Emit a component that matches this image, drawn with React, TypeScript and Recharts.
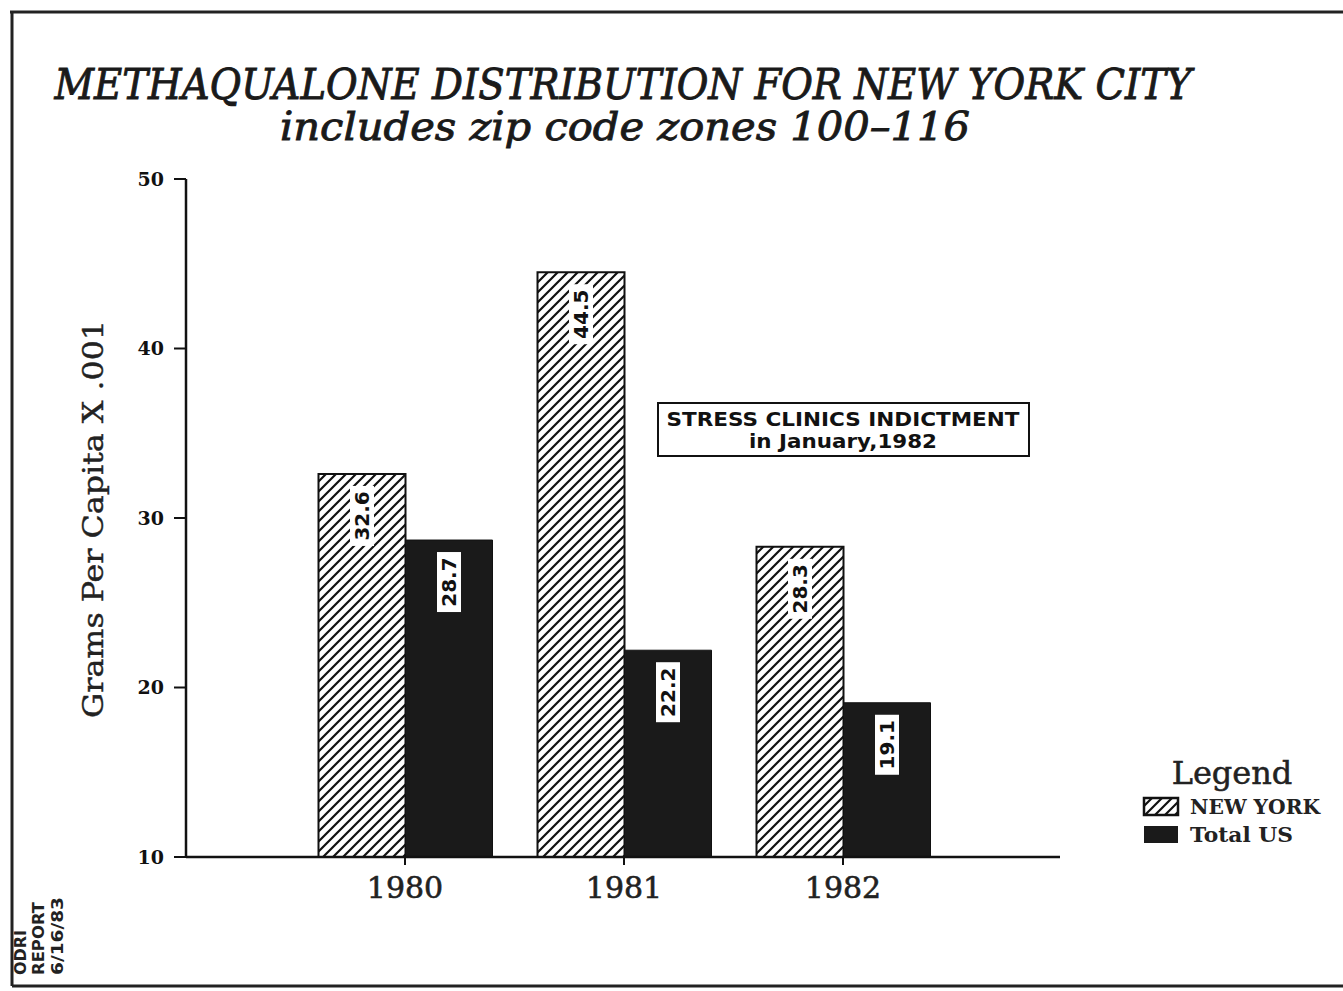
import React from 'react';
import { Bar, BarChart, LabelList, XAxis, YAxis } from 'recharts';

const years = ['1980', '1981', '1982'];
const newYork = [32.6, 44.5, 28.3];
const totalUS = [28.7, 22.2, 19.1];
const yTicks = [10, 20, 30, 40, 50];

const data = years.map((year, i) => ({ year, newYork: newYork[i], totalUS: totalUS[i] }));

const serif = '"DejaVu Serif", serif';
const sansBold = '"DejaVu Sans", sans-serif';

const HatchDefs = () => (
  <defs>
    <pattern id='hatch' patternUnits='userSpaceOnUse' width={10} height={10}>
      <rect width={10} height={10} fill='#fff' />
      <path d='M-1,11 L11,-1 M-3,3 L3,-3 M7,13 L13,7' stroke='#111' strokeWidth={2.2} />
    </pattern>
  </defs>
);

// rotated value tag sitting just under the top of each bar
const ValueLabel = (props: any) => {
  const { x, y, width, value } = props;
  const cx = Number(x) + Number(width) / 2;
  const cy = Number(y) + 42;
  return (
    <g>
      <rect x={cx - 12} y={cy - 30} width={24} height={60} fill='#fff' />
      <text
        x={cx}
        y={cy}
        transform={`rotate(-90 ${cx} ${cy})`}
        textAnchor='middle'
        dominantBaseline='central'
        fontFamily={sansBold}
        fontWeight='bold'
        fontSize={20}
        fill='#111'
      >
        {value}
      </text>
    </g>
  );
};

export default function App() {
  return (
    <div style={{ position: 'absolute', left: 0, top: 0, width: 1343, height: 991, background: '#fff' }}>
      <BarChart
        width={1343}
        height={991}
        data={data}
        margin={{ top: 179, right: 283, bottom: 74, left: 106 }}
        barSize={87}
        barGap={0}
      >
        <HatchDefs />
        <XAxis
          dataKey='year'
          height={60}
          padding={{ left: 109.5, right: 107.5 }}
          axisLine={{ stroke: '#111', strokeWidth: 2.5 }}
          tickLine={{ stroke: '#111', strokeWidth: 2 }}
          tickSize={8}
          tickMargin={12}
          tick={{ fill: '#222', fontFamily: serif, fontSize: 30, stroke: '#222', strokeWidth: 0.6 }}
        />
        <YAxis
          domain={[10, 50]}
          ticks={yTicks}
          width={80}
          allowDataOverflow
          axisLine={{ stroke: '#111', strokeWidth: 2.5 }}
          tickLine={{ stroke: '#111', strokeWidth: 2 }}
          tickSize={12}
          tickMargin={10}
          tick={{ fill: '#111', fontFamily: serif, fontWeight: 'bold', fontSize: 19 }}
        />
        <Bar dataKey='newYork' fill='url(#hatch)' stroke='#111' strokeWidth={2} isAnimationActive={false}>
          <LabelList dataKey='newYork' content={ValueLabel} />
        </Bar>
        <Bar dataKey='totalUS' fill='#1a1a1a' stroke='#111' strokeWidth={1} isAnimationActive={false}>
          <LabelList dataKey='totalUS' content={ValueLabel} />
        </Bar>
      </BarChart>

      <svg
        width={1343}
        height={991}
        style={{ position: 'absolute', left: 0, top: 0, pointerEvents: 'none' }}
      >
        {/* page frame */}
        <path d='M10,12 L1343,12 M12,12 L12,986 M12,986 L1343,986' stroke='#222' strokeWidth={3} fill='none' />

        {/* title */}
        <text
          x={623}
          y={99}
          textAnchor='middle'
          fontFamily={serif}
          fontStyle='italic'
          fontSize={42}
          fill='#1a1a1a'
          stroke='#1a1a1a'
          strokeWidth={0.9}
          textLength={1137}
          lengthAdjust='spacingAndGlyphs'
        >
          METHAQUALONE DISTRIBUTION FOR NEW YORK CITY
        </text>
        <text
          x={625}
          y={140}
          textAnchor='middle'
          fontFamily={serif}
          fontStyle='italic'
          fontSize={39}
          fill='#1a1a1a'
          stroke='#1a1a1a'
          strokeWidth={0.9}
          textLength={690}
          lengthAdjust='spacingAndGlyphs'
        >
          includes zip code zones 100–116
        </text>

        {/* y axis title */}
        <text
          x={103}
          y={519}
          transform='rotate(-90 103 519)'
          textAnchor='middle'
          fontFamily={serif}
          fontSize={28}
          fill='#222'
          stroke='#222'
          strokeWidth={0.4}
          textLength={398}
          lengthAdjust='spacingAndGlyphs'
        >
          Grams Per Capita X .001
        </text>

        {/* annotation */}
        <rect x={658} y={403} width={371} height={53} fill='#fff' stroke='#111' strokeWidth={2} />
        <text
          x={843}
          y={426}
          textAnchor='middle'
          fontFamily={sansBold}
          fontWeight='bold'
          fontSize={19}
          fill='#111'
          textLength={353}
          lengthAdjust='spacingAndGlyphs'
        >
          STRESS CLINICS INDICTMENT
        </text>
        <text
          x={843}
          y={448}
          textAnchor='middle'
          fontFamily={sansBold}
          fontWeight='bold'
          fontSize={19}
          fill='#111'
          textLength={188}
          lengthAdjust='spacingAndGlyphs'
        >
          in January,1982
        </text>

        {/* legend */}
        <text x={1232} y={784} textAnchor='middle' fontFamily={serif} fontSize={32} fill='#222' stroke='#222' strokeWidth={0.5}>
          Legend
        </text>
        <rect x={1144} y={798} width={34} height={17} fill='url(#hatch)' stroke='#111' strokeWidth={2.5} />
        <text
          x={1190}
          y={814}
          fontFamily={serif}
          fontWeight='bold'
          fontSize={20}
          fill='#222'
          textLength={130}
          lengthAdjust='spacingAndGlyphs'
        >
          NEW YORK
        </text>
        <rect x={1144} y={826} width={34} height={17} fill='#1a1a1a' />
        <text
          x={1190}
          y={842}
          fontFamily={serif}
          fontWeight='bold'
          fontSize={20}
          fill='#222'
          textLength={103}
          lengthAdjust='spacingAndGlyphs'
        >
          Total US
        </text>

        {/* footer stamp */}
        <g fontFamily={sansBold} fontWeight='bold' fontSize={15} fill='#222'>
          <text x={26} y={975} transform='rotate(-90 26 975)' textLength={45} lengthAdjust='spacingAndGlyphs'>
            ODRI
          </text>
          <text x={44} y={975} transform='rotate(-90 44 975)' textLength={73} lengthAdjust='spacingAndGlyphs'>
            REPORT
          </text>
          <text x={63} y={975} transform='rotate(-90 63 975)' textLength={78} lengthAdjust='spacingAndGlyphs'>
            6/16/83
          </text>
        </g>
      </svg>
    </div>
  );
}
